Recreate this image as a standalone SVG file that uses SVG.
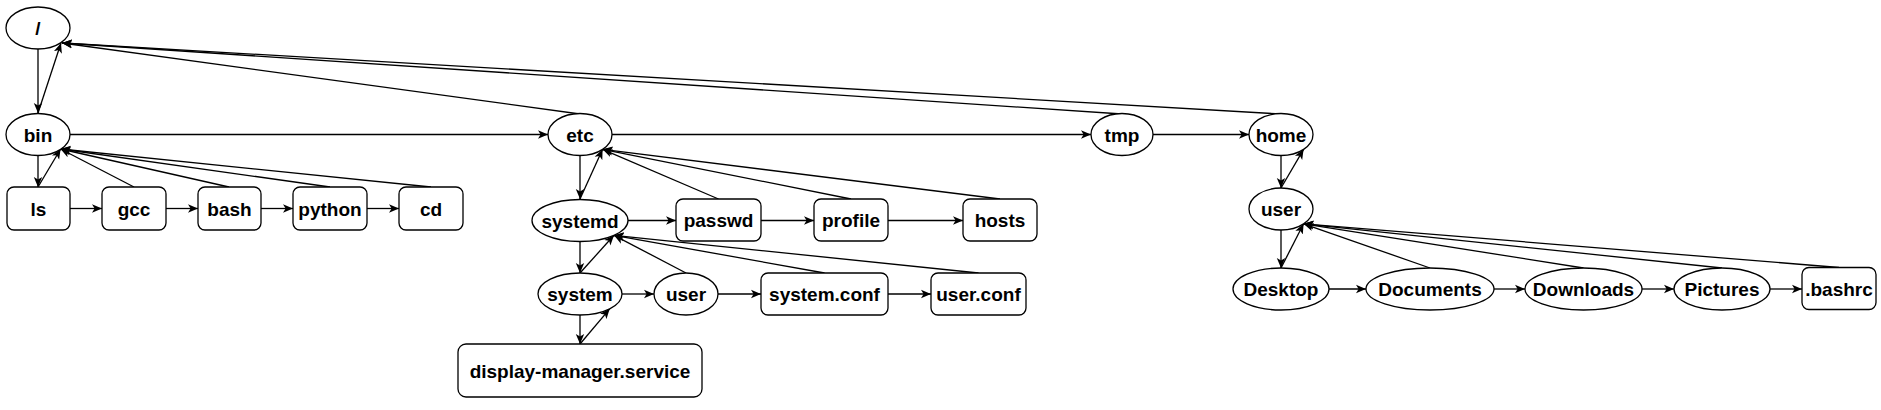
<svg xmlns="http://www.w3.org/2000/svg" width="1881" height="410" viewBox="0 0 1881 410">
<style>
.n{fill:#fff;stroke:#000;stroke-width:1.3}
.t{font-family:"Liberation Sans",Arial,sans-serif;font-weight:bold;font-size:19px;fill:#000;text-anchor:middle}
.e{fill:none;stroke:#000;stroke-width:1.3;marker-end:url(#a)}
</style>
<defs>
<marker id="a" viewBox="0 0 10 10" refX="10" refY="5" markerWidth="10" markerHeight="10" markerUnits="userSpaceOnUse" orient="auto">
<path d="M0,0.8 L10,5 L0,9.2 L2.6,5 Z" fill="#000"/>
</marker>
</defs>
<rect width="1881" height="410" fill="#fff"/>
<g id="connectors">
<path class="e" d="M38,49 L38,113"/>
<path class="e" d="M38,113 L61,43"/>
<path class="e" d="M580,114 L62,43"/>
<path class="e" d="M1122,114 L62,43"/>
<path class="e" d="M1281,114 L62,43"/>
<path class="e" d="M70,134.5 L548,134.5"/>
<path class="e" d="M612,134.5 L1091,134.5"/>
<path class="e" d="M1153,134.5 L1249,134.5"/>
<path class="e" d="M38,155 L38,187"/>
<path class="e" d="M38,187 L60.6,149"/>
<path class="e" d="M134,187 L60.6,149"/>
<path class="e" d="M229,187 L60.6,149"/>
<path class="e" d="M330,187 L60.6,149"/>
<path class="e" d="M431,187 L60.6,149"/>
<path class="e" d="M70,208.5 L102,208.5"/>
<path class="e" d="M166,208.5 L198,208.5"/>
<path class="e" d="M261,208.5 L293,208.5"/>
<path class="e" d="M367,208.5 L399,208.5"/>
<path class="e" d="M580,155.5 L580,199"/>
<path class="e" d="M580,199 L602.6,149.3"/>
<path class="e" d="M718.5,199 L602.6,149.3"/>
<path class="e" d="M851,199 L602.6,149.3"/>
<path class="e" d="M1000,199 L602.6,149.3"/>
<path class="e" d="M628,220.5 L676,220.5"/>
<path class="e" d="M761,220.5 L814,220.5"/>
<path class="e" d="M888,220.5 L963,220.5"/>
<path class="e" d="M580,241.5 L580,273"/>
<path class="e" d="M580,273 L614,235.3"/>
<path class="e" d="M686,273 L614,235.3"/>
<path class="e" d="M824.5,273 L614,235.3"/>
<path class="e" d="M978.5,273 L614,235.3"/>
<path class="e" d="M622,294 L654,294"/>
<path class="e" d="M718,294 L761,294"/>
<path class="e" d="M888,294 L931,294"/>
<path class="e" d="M580,315 L580,344"/>
<path class="e" d="M580,344 L609.7,308.8"/>
<path class="e" d="M1281,155.5 L1281,188"/>
<path class="e" d="M1281,188 L1303.6,149.3"/>
<path class="e" d="M1281,230 L1281,268"/>
<path class="e" d="M1281,268 L1303.6,223.8"/>
<path class="e" d="M1430,268 L1303.6,223.8"/>
<path class="e" d="M1583.5,268 L1303.6,223.8"/>
<path class="e" d="M1722,268 L1303.6,223.8"/>
<path class="e" d="M1839,267.5 L1303.6,223.8"/>
<path class="e" d="M1329,289 L1366,289"/>
<path class="e" d="M1494,289 L1525,289"/>
<path class="e" d="M1642,289 L1674,289"/>
<path class="e" d="M1770,289 L1802,289"/>
</g>
<g id="root"><ellipse class="n" cx="38" cy="28" rx="32" ry="21"/><text class="t" x="38" y="35">/</text></g>
<g id="bin"><ellipse class="n" cx="38" cy="134.5" rx="32" ry="21"/><text class="t" x="38" y="141.5">bin</text></g>
<g id="ls"><rect class="n" x="7" y="187" width="63" height="43" rx="7"/><text class="t" x="38.5" y="215.5">ls</text></g>
<g id="gcc"><rect class="n" x="102" y="187" width="64" height="43" rx="7"/><text class="t" x="134" y="215.5">gcc</text></g>
<g id="bash"><rect class="n" x="198" y="187" width="63" height="43" rx="7"/><text class="t" x="229.5" y="215.5">bash</text></g>
<g id="python"><rect class="n" x="293" y="187" width="74" height="43" rx="7"/><text class="t" x="330" y="215.5">python</text></g>
<g id="cd"><rect class="n" x="399" y="187" width="64" height="43" rx="7"/><text class="t" x="431" y="215.5">cd</text></g>
<g id="etc"><ellipse class="n" cx="580" cy="134.5" rx="32" ry="21"/><text class="t" x="580" y="141.5">etc</text></g>
<g id="systemd"><ellipse class="n" cx="580" cy="220.5" rx="48" ry="21"/><text class="t" x="580" y="227.5">systemd</text></g>
<g id="passwd"><rect class="n" x="676" y="199" width="85" height="42" rx="7"/><text class="t" x="718.5" y="227">passwd</text></g>
<g id="profile"><rect class="n" x="814" y="199" width="74" height="42" rx="7"/><text class="t" x="851" y="227">profile</text></g>
<g id="hosts"><rect class="n" x="963" y="199" width="74" height="42" rx="7"/><text class="t" x="1000" y="227">hosts</text></g>
<g id="system"><ellipse class="n" cx="580" cy="294" rx="42" ry="21"/><text class="t" x="580" y="301">system</text></g>
<g id="user-etc"><ellipse class="n" cx="686" cy="294" rx="32" ry="21"/><text class="t" x="686" y="301">user</text></g>
<g id="system-conf"><rect class="n" x="761" y="273" width="127" height="42" rx="7"/><text class="t" x="824.5" y="301">system.conf</text></g>
<g id="user-conf"><rect class="n" x="931" y="273" width="95" height="42" rx="7"/><text class="t" x="978.5" y="301">user.conf</text></g>
<g id="display-manager"><rect class="n" x="458" y="344" width="244" height="53" rx="8"/><text class="t" x="580" y="377.5">display-manager.service</text></g>
<g id="tmp"><ellipse class="n" cx="1122" cy="134.5" rx="31" ry="21"/><text class="t" x="1122" y="141.5">tmp</text></g>
<g id="home"><ellipse class="n" cx="1281" cy="134.5" rx="32" ry="21"/><text class="t" x="1281" y="141.5">home</text></g>
<g id="user-home"><ellipse class="n" cx="1281" cy="209" rx="32" ry="21"/><text class="t" x="1281" y="216">user</text></g>
<g id="desktop"><ellipse class="n" cx="1281" cy="289" rx="48" ry="21"/><text class="t" x="1281" y="296">Desktop</text></g>
<g id="documents"><ellipse class="n" cx="1430" cy="289" rx="64" ry="21"/><text class="t" x="1430" y="296">Documents</text></g>
<g id="downloads"><ellipse class="n" cx="1583.5" cy="289" rx="58.5" ry="21"/><text class="t" x="1583.5" y="296">Downloads</text></g>
<g id="pictures"><ellipse class="n" cx="1722" cy="289" rx="48" ry="21"/><text class="t" x="1722" y="296">Pictures</text></g>
<g id="bashrc"><rect class="n" x="1802" y="267.5" width="74" height="42" rx="7"/><text class="t" x="1839" y="295.5">.bashrc</text></g>
</svg>
